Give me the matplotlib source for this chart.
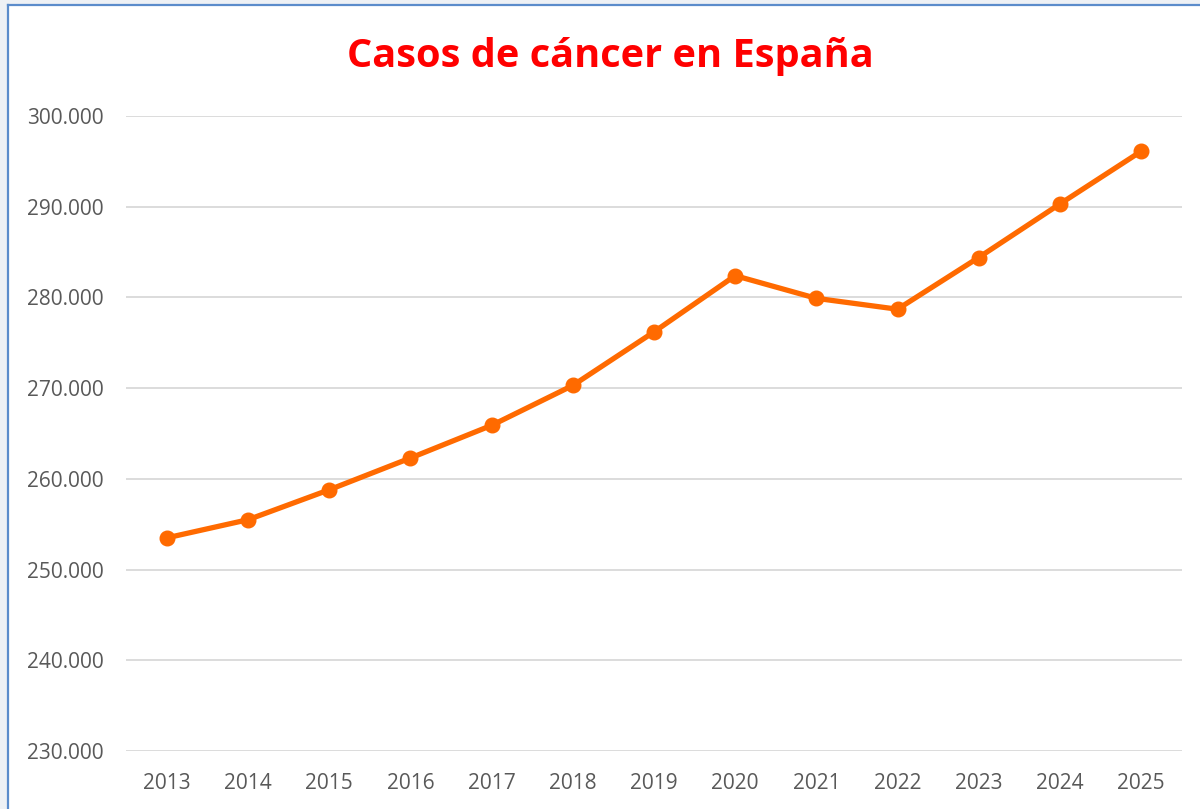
import matplotlib.pyplot as plt
from matplotlib.patches import Rectangle
from matplotlib.ticker import FuncFormatter

years = [2013, 2014, 2015, 2016, 2017, 2018, 2019, 2020, 2021, 2022, 2023, 2024, 2025]
casos = [253500, 255500, 258800, 262300, 265900, 270300, 276200, 282400, 279900, 278700, 284400, 290300, 296100]
yticks = [230000, 240000, 250000, 260000, 270000, 280000, 290000, 300000]

W, H = 1200, 809
fig = plt.figure(figsize=(W / 100, H / 100), dpi=100)
fig.patch.set_facecolor('#eef1f5')

# white chart card with blue border (left and top visible)
fig.add_artist(Rectangle((8 / W, 0), 1, 1 - 5 / H, transform=fig.transFigure,
                         facecolor='white', edgecolor='none', zorder=-10))
fig.add_artist(plt.Line2D([8 / W, 8 / W], [0, 1 - 5 / H], transform=fig.transFigure,
                          color='#5b8ccb', lw=1.6, zorder=-5))
fig.add_artist(plt.Line2D([8 / W, 1], [1 - 5 / H, 1 - 5 / H], transform=fig.transFigure,
                          color='#5b8ccb', lw=1.6, zorder=-5))

ax = fig.add_axes([126.4 / W, 1 - 751 / H, (1181.6 - 126.4) / W, (751 - 116) / H])
ax.set_facecolor('none')

ax.plot(years, casos, color='#ff6a00', lw=3.8, marker='o', markersize=10.5,
        solid_capstyle='round', zorder=3, clip_on=False)

ax.set_xlim(2012.5, 2025.5)
ax.set_ylim(230000, 300000)
ax.set_yticks(yticks)
ax.set_xticks(years)
ax.yaxis.set_major_formatter(FuncFormatter(lambda v, p: f'{int(v):,}'.replace(',', '.')))
ax.grid(axis='y', color='#d9d9d9', lw=1.3)
ax.set_axisbelow(True)
for s in ax.spines.values():
    s.set_visible(False)
ax.tick_params(length=0, labelsize=15, labelcolor='#595959', pad=0)
ax.tick_params(axis='y', pad=16.5)
ax.tick_params(axis='x', pad=16)
for lab in ax.get_xticklabels() + ax.get_yticklabels():
    lab.set_family('Open Sans')

fig.text(610 / W, 1 - 57 / H, 'Casos de cáncer en España', ha='center', va='center',
         fontsize=28.6, fontweight='bold', color='#ff0000', family='Open Sans')

fig.savefig('out.png', dpi=100)
